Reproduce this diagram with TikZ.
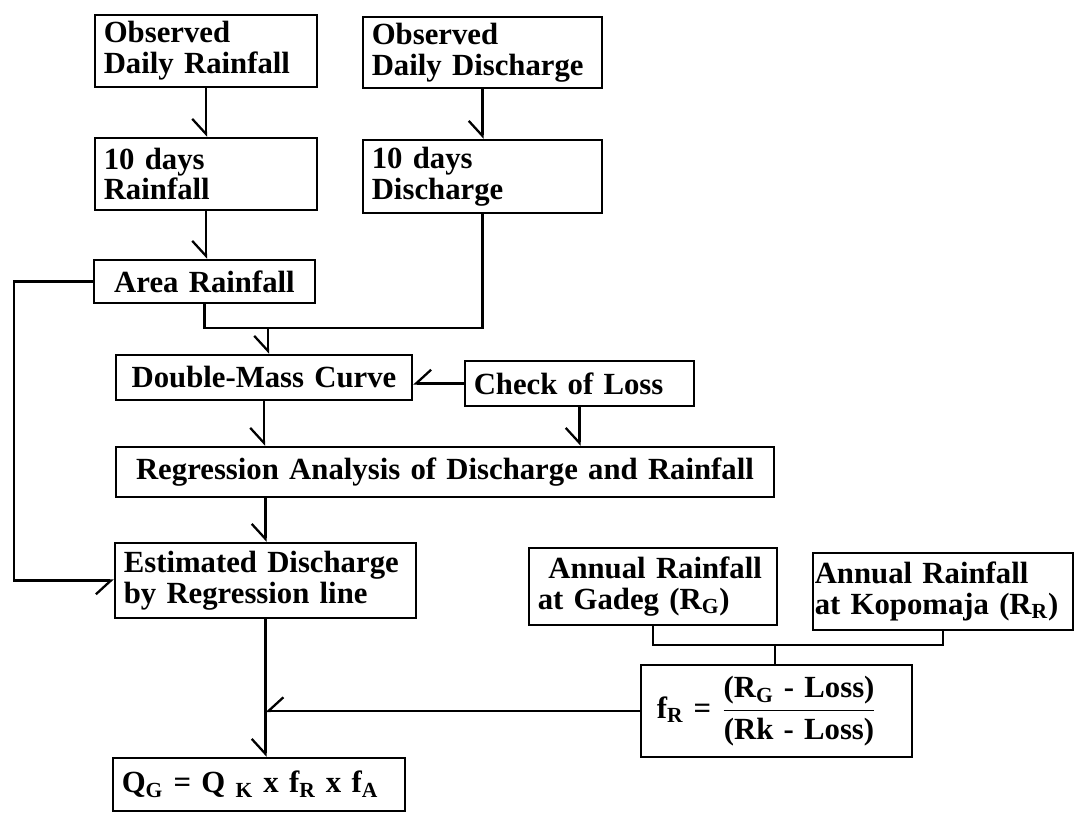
\documentclass[tikz,border=0pt]{standalone}
\usepackage{amsmath}
\usepackage{fontspec}
\setmainfont{Liberation Serif}
\usetikzlibrary{arrows.meta}

\begin{document}
\begin{tikzpicture}[
    box/.style 2 args={draw, line width=1.3pt, inner xsep=5pt, inner ysep=0pt,
      text width=#1cm-10pt, minimum height=#2cm, align=left,
      font=\bfseries\fontsize{17.5}{17.5}\selectfont},
    arr/.style={-{Straight Barb[right,length=3mm,width=5.5mm]}},
    line width=1.3pt]
\useasboundingbox (0,0) rectangle (21.5,-16.28);

% observed data
\node[box={4.44}{1.44}] (obsrain) at (4.12,-1.02) {Observed\\Daily Rainfall};
\node[box={4.78}{1.42}] (obsdis) at (9.65,-1.05) {Observed\\Daily Discharge};
\node[box={4.44}{1.44}] (tenrain) at (4.12,-3.48) {10 days\\Rainfall};
\node[box={4.78}{1.46}] (tendis) at (9.65,-3.53) {10 days\\Discharge};
\node[box={4.42}{0.86}, align=center] (area) at (4.09,-5.63) {Area Rainfall};

% analysis
\node[box={5.92}{0.90}, align=center] (dm) at (5.28,-7.55) {Double-Mass Curve};
\node[box={4.58}{0.90}] (check) at (11.59,-7.67) {Check of Loss};
\node[box={13.16}{1.00}, align=center] (reg) at (8.90,-9.44) {Regression Analysis of Discharge and Rainfall};
\node[box={6.02}{1.50}] (est) at (5.31,-11.61) {Estimated Discharge\\by Regression line};

% annual rainfall factor
\node[box={4.96}{1.54}] (anng) at (13.06,-11.73) {\hspace*{6pt}Annual Rainfall\\at Gadeg (R\textsubscript{G})};
\node[box={5.20}{1.54}, inner xsep=1pt, text width=5.2cm-2pt] (annk) at (18.86,-11.83)
  {Annual Rainfall\\at Kopomaja (R\textsubscript{R})};
\node[box={5.42}{1.84}] (fr) at (15.53,-14.22)
  {\hspace*{4pt}f\textsubscript{R} = $\dfrac{\text{(R\textsubscript{G} - Loss)}}{\text{(Rk - Loss)}}$};
\node[box={5.84}{1.06}] (q) at (5.18,-15.69)
  {Q\textsubscript{G} = Q \textsubscript{K} x f\textsubscript{R} x f\textsubscript{A}};

\coordinate (join1) at (5.36,-6.56);
\coordinate (join2) at (15.50,-12.90);
\coordinate (rail) at (0.28,0);

% connectors
\draw[arr] (obsrain) -- (tenrain);
\draw[arr] (obsdis) -- (tendis);
\draw[arr] (tenrain.south) -- (tenrain.south |- area.north);
\draw (area.south) |- (join1);
\draw (tendis.south) |- (join1);
\draw[arr] (join1) -- (join1 |- dm.north);
\draw[arr] (check.west) -- (check.west -| dm.east);
\draw[arr] (dm.south) -- (dm.south |- reg.north);
\draw[arr] (check.south) -- (check.south |- reg.north);
\draw[arr] (reg.south -| est.north) -- (est.north);
\draw[arr] (area.west) -| (rail |- est.west) -- (est.west);
\draw[arr] (est.south) -- (est.south |- q.north);
\draw (anng.south) |- (annk.south |- join2) -- (annk.south);
\draw (join2) -- (join2 |- fr.north);
\draw[arr] (fr.west) -- (fr.west -| est.south);

\end{tikzpicture}
\end{document}
